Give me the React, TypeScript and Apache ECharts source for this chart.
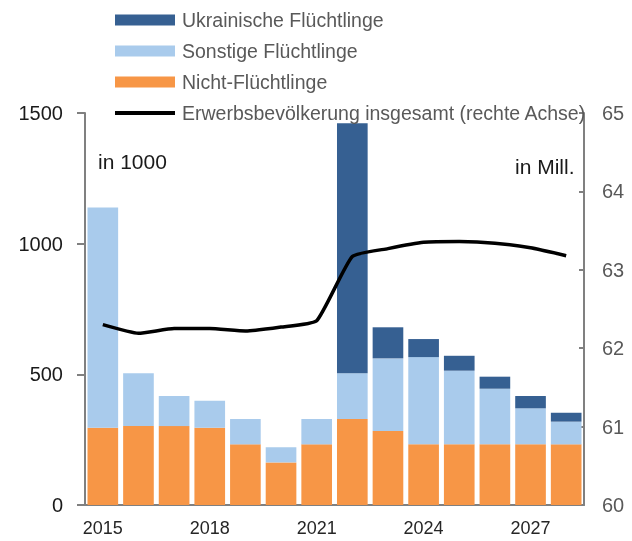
import React, { useEffect, useRef } from "react";
import * as echarts from "echarts";

const years = ["2015", "2016", "2017", "2018", "2019", "2020", "2021", "2022", "2023", "2024", "2025", "2026", "2027", "2028"];
const nichtFluechtlinge = [296, 302, 302, 296, 232, 163, 232, 329, 283, 232, 232, 232, 232, 232];
const sonstigeFluechtlinge = [842, 202, 115, 103, 97, 58, 97, 175, 278, 334, 282, 213, 138, 87];
const ukrainischeFluechtlinge = [0, 0, 0, 0, 0, 0, 0, 957, 119, 69, 57, 46, 47, 34];
const erwerbsbevoelkerung = [62.30, 62.19, 62.25, 62.25, 62.22, 62.27, 62.35, 63.17, 63.27, 63.35, 63.36, 63.34, 63.28, 63.18];
const xTickLabels = ["2015", "2018", "2021", "2024", "2027"];

const FONT = "'Liberation Sans', Arial, sans-serif";

export default function App() {
  const ref = useRef<HTMLDivElement>(null);
  useEffect(() => {
    if (!ref.current) return;
    const chart = echarts.init(ref.current, null, { renderer: "svg" });
    chart.setOption({
      animation: false,
      legend: {
        orient: "vertical",
        left: 110,
        top: 5,
        itemWidth: 60,
        itemHeight: 11,
        itemGap: 11,
        data: [
          { name: "Ukrainische Flüchtlinge", icon: "rect" },
          { name: "Sonstige Flüchtlinge", icon: "rect" },
          { name: "Nicht-Flüchtlinge", icon: "rect" },
          { name: "Erwerbsbevölkerung insgesamt (rechte Achse)", icon: "path://M0,0 L60,0 L60,4 L0,4 Z" },
        ],
        textStyle: { fontFamily: FONT, fontSize: 19.5, color: "#595959", lineHeight: 20, padding: [0, 0, 0, 2] },
      },
      grid: { left: 85, right: 48, top: 113, bottom: 36, containLabel: false },
      xAxis: {
        type: "category",
        data: years,
        axisLine: { lineStyle: { color: "#808080", width: 2 } },
        axisTick: { show: false },
        axisLabel: {
          fontFamily: FONT,
          fontSize: 18,
          color: "#262626",
          margin: 14,
          interval: 0,
          formatter: (v: string) => (xTickLabels.includes(v) ? v : ""),
        },
      },
      yAxis: [
        {
          type: "value",
          min: 0,
          max: 1500,
          interval: 500,
          splitLine: { show: false },
          axisLine: { show: true, lineStyle: { color: "#808080", width: 2 } },
          axisTick: { show: true, length: 8, lineStyle: { color: "#808080", width: 2 } },
          axisLabel: { fontFamily: FONT, fontSize: 20, color: "#1a1a1a", margin: 22, formatter: (v: number) => String(v) },
        },
        {
          type: "value",
          min: 60,
          max: 65,
          interval: 1,
          position: "right",
          splitLine: { show: false },
          axisLine: { show: true, lineStyle: { color: "#808080", width: 2 } },
          axisTick: { show: true, inside: true, length: 5, lineStyle: { color: "#808080", width: 2 } },
          axisLabel: { fontFamily: FONT, fontSize: 20, color: "#595959", margin: 18, formatter: (v: number) => String(v) },
        },
      ],
      graphic: [
        { type: "text", left: 98, top: 151, style: { text: "in 1000", fontFamily: FONT, fontSize: 21, fill: "#1a1a1a" } },
        { type: "text", left: 515, top: 156, style: { text: "in Mill.", fontFamily: FONT, fontSize: 21, fill: "#1a1a1a" } },
      ],
      series: [
        {
          name: "Nicht-Flüchtlinge",
          type: "bar",
          stack: "total",
          data: nichtFluechtlinge,
          barCategoryGap: "14%",
          itemStyle: { color: "#F79646" },
        },
        {
          name: "Sonstige Flüchtlinge",
          type: "bar",
          stack: "total",
          data: sonstigeFluechtlinge,
          itemStyle: { color: "#A9CBEC" },
        },
        {
          name: "Ukrainische Flüchtlinge",
          type: "bar",
          stack: "total",
          data: ukrainischeFluechtlinge,
          itemStyle: { color: "#366092" },
        },
        {
          name: "Erwerbsbevölkerung insgesamt (rechte Achse)",
          type: "line",
          yAxisIndex: 1,
          data: erwerbsbevoelkerung,
          symbol: "none",
          smooth: 0.15,
          lineStyle: { color: "#000000", width: 3.5 },
          itemStyle: { color: "#000000" },
        },
      ],
    });
    return () => chart.dispose();
  }, []);
  return <div ref={ref} style={{ position: "fixed", left: 0, top: 0, width: 632, height: 541 }} />;
}
